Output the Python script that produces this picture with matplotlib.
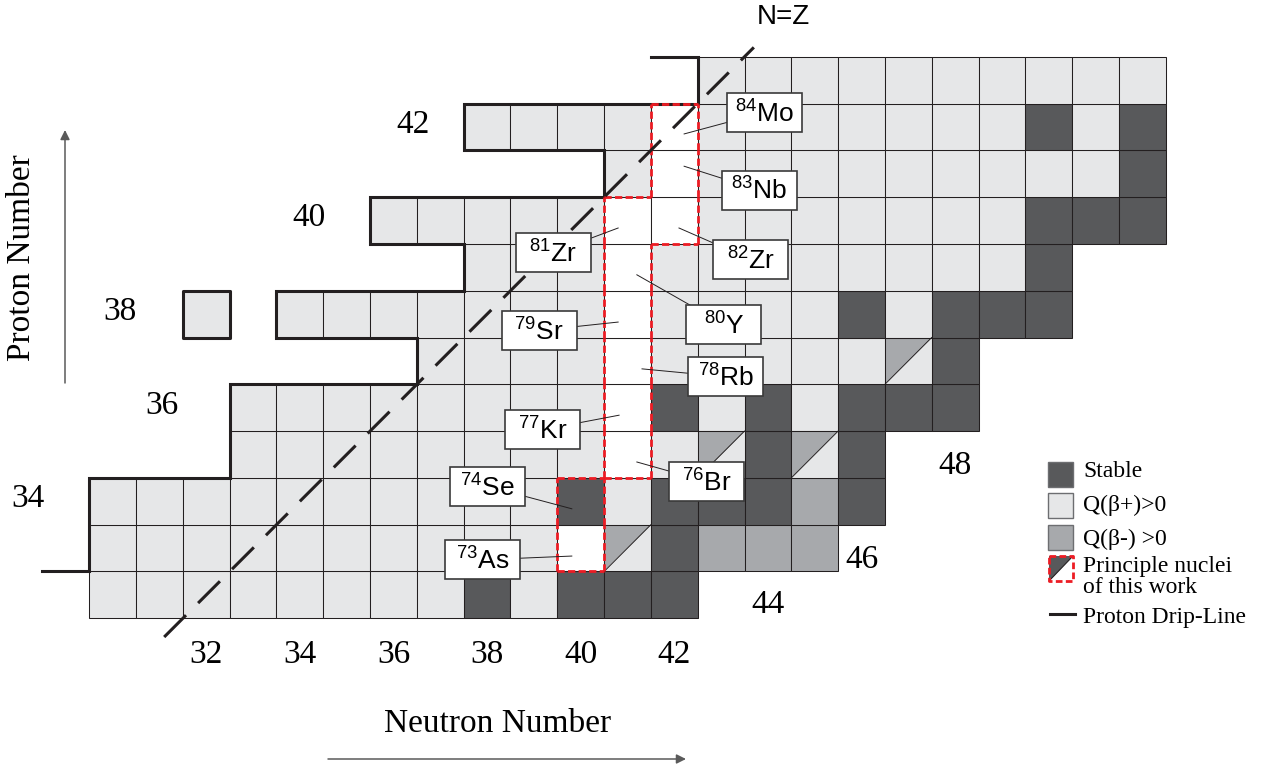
import numpy as np
import matplotlib.pyplot as plt
from matplotlib.patches import Rectangle, Polygon

plt.rcParams['mathtext.fontset'] = 'custom'
plt.rcParams['mathtext.rm'] = 'Liberation Sans'
plt.rcParams['mathtext.it'] = 'Liberation Sans:italic'
plt.rcParams['mathtext.bf'] = 'Liberation Sans:bold'

LIGHT = '#e6e7e8'
DARK = '#58595b'
MID = '#a7a9ac'
RED = '#ed1c24'
INK = '#231f20'
SERIF = 'Liberation Serif'
SANS = 'Liberation Sans'

# Chart of nuclides: one string per proton number, starting at the first neutron number
# L = Q(b+)>0, D = stable, M = Q(b-)>0, T = both (split cell), W = principle nuclei (unstable)
row_z = [32, 33, 34, 35, 36, 37, 38, 39, 40, 41, 42, 43]
row_n0 = [30, 30, 30, 33, 33, 37, 34, 38, 36, 41, 38, 43]
row_cells = [
    "LLLLLLLLDLDDD",
    "LLLLLLLLLLWTDMMM",
    "LLLLLLLLLLDLDDDMD",
    "LLLLLLLLWLTDTD",
    "LLLLLLLLWDLDLDDD",
    "LLLLWLLLLLTD",
    "LLLLLLLWLLLLDLDDD",
    "LLLWLLLLLLLLD",
    "LLLLLWWLLLLLLLDDD",
    "LWLLLLLLLLLD",
    "LLLLWLLLLLLLDLD",
    "LLLLLLLLLL",
]
# isolated known nucleus beyond the drip line
iso_n = [32]
iso_z = [38]

# principle nuclei of this work
pr_n = [40, 40, 41, 41, 41, 41, 41, 41, 42, 42, 42]
pr_z = [33, 34, 35, 36, 37, 38, 39, 40, 40, 41, 42]

# proton drip line: first bound neutron number per Z
drip_z = [44, 43, 42, 41, 40, 39, 38, 37, 36, 35, 34, 33, 32]
drip_n = [42, 43, 38, 41, 36, 38, 34, 37, 33, 33, 30, 30, 29]

# labelled nuclides
lab_a = [84, 83, 82, 81, 80, 79, 78, 77, 76, 74, 73]
lab_sym = ['Mo', 'Nb', 'Zr', 'Zr', 'Y', 'Sr', 'Rb', 'Kr', 'Br', 'Se', 'As']
# label box centres and leader-line anchors (chart units)
lab_box = [(43.92, 42.31), (43.81, 40.65), (43.63, 39.17), (39.41, 39.32),
           (43.06, 37.78), (39.11, 37.65), (43.10, 36.66), (39.19, 35.53),
           (42.69, 34.42), (38.01, 34.32), (37.90, 32.75)]
lab_tip = [(42.21, 41.85), (42.21, 41.16), (42.10, 39.84), (40.80, 39.84),
           (41.20, 38.84), (40.80, 37.83), (41.31, 36.83), (40.82, 35.84),
           (41.20, 34.84), (39.81, 33.84), (39.81, 32.83)]

n_ticks = [32, 34, 36, 38, 40, 42]
z_ticks = [34, 36, 38, 40, 42]
z_tick_pos = [28.19, 31.06, 30.16, 34.19, 36.41]
edge_ticks = [44, 46, 48]
edge_tick_z = [31.78, 32.75, 34.76]

fig = plt.figure(figsize=(12.66, 7.68), dpi=100)
ax = fig.add_axes([0, 0, 1, 1])
ax.set_xlim(27.592, 54.643)
ax.set_ylim(28.301, 44.712)
ax.axis('off')

fill = {'L': LIGHT, 'D': DARK, 'M': MID, 'W': 'white'}
for z, n0, cells in zip(row_z, row_n0, row_cells):
    for i, c in enumerate(cells):
        n = n0 + i
        if c == 'T':
            ax.add_patch(Polygon([(n - .5, z - .5), (n - .5, z + .5), (n + .5, z + .5)],
                                 closed=True, fc=MID, ec='none', zorder=1))
            ax.add_patch(Polygon([(n - .5, z - .5), (n + .5, z - .5), (n + .5, z + .5)],
                                 closed=True, fc=LIGHT, ec='none', zorder=1))
            ax.plot([n - .5, n + .5], [z - .5, z + .5], color=INK, lw=0.7, zorder=2)
            ax.add_patch(Rectangle((n - .5, z - .5), 1, 1, fc='none', ec=INK, lw=0.75, zorder=2))
        else:
            ax.add_patch(Rectangle((n - .5, z - .5), 1, 1, fc=fill[c], ec=INK, lw=0.75, zorder=1))

for n, z in zip(iso_n, iso_z):
    ax.add_patch(Rectangle((n - .5, z - .5), 1, 1, fc=LIGHT, ec=INK, lw=2.2,
                           joinstyle='round', zorder=3))

# drip line path
px, py = [], []
for k, (z, n) in enumerate(zip(drip_z, drip_n)):
    if k > 0:
        px.append(n - .5); py.append(z + .5)
    if k < len(drip_z) - 1:
        px.append(n - .5); py.append(z - .5)
ax.plot(px, py, color=INK, lw=2.2, solid_joinstyle='miter', zorder=3)

# red dashed outline around principle nuclei
pset = set(zip(pr_n, pr_z))
for n, z in pset:
    sides = [((1, 0), [n + .5, n + .5], [z - .5, z + .5]),
             ((-1, 0), [n - .5, n - .5], [z - .5, z + .5]),
             ((0, 1), [n - .5, n + .5], [z + .5, z + .5]),
             ((0, -1), [n - .5, n + .5], [z - .5, z - .5])]
    for (dn, dz), xs, ys in sides:
        if (n + dn, z + dz) not in pset:
            ax.plot(xs, ys, color=RED, lw=2.0, dashes=(2.6, 1.2), zorder=4)

# N = Z line
ax.plot([31.1, 43.7], [31.1, 43.7], color=INK, lw=2.2, dashes=(10.1, 5.6),
        solid_capstyle='butt', dash_capstyle='butt', zorder=5)

# nuclide labels
bw, bh = 75 / 46.8, 39 / 46.8
for a, s, (bx, by), (tx, ty) in zip(lab_a, lab_sym, lab_box, lab_tip):
    ax.plot([tx, bx], [ty, by], color=INK, lw=0.7, zorder=6)
    ax.add_patch(Rectangle((bx - bw / 2, by - bh / 2), bw, bh, fc='white',
                           ec='#3a3a3a', lw=1.2, zorder=7))
    ax.text(bx, by - 0.03, r'$^{%d}$%s' % (a, s), ha='center', va='center',
            fontsize=19, family=SANS, zorder=8)

# tick numbers
for n in n_ticks:
    ax.text(n, 30.72, str(n), ha='center', va='center', fontsize=24, family=SERIF)
for z, x in zip(z_ticks, z_tick_pos):
    ax.text(x, z + 0.05, str(z), ha='center', va='center', fontsize=24, family=SERIF)
for n, z in zip(edge_ticks, edge_tick_z):
    ax.text(n, z, str(n), ha='center', va='center', fontsize=24, family=SERIF)

# overlay in pixel units: titles, arrows, legend
lax = fig.add_axes([0, 0, 1, 1])
lax.set_xlim(0, 1266)
lax.set_ylim(768, 0)
lax.axis('off')

lax.text(783, 17, 'N=Z', ha='center', va='center', fontsize=20, family=SANS)
lax.text(22, 258, 'Proton Number', rotation=90, ha='center', va='center',
         fontsize=24, family=SERIF)
lax.text(498, 724, 'Neutron Number', ha='center', va='center', fontsize=24, family=SERIF)
arrow = dict(arrowstyle='-|>', color='#5a5a5a', lw=1.1, mutation_scale=14,
             shrinkA=0, shrinkB=0)
lax.annotate('', xy=(65, 130), xytext=(65, 383), arrowprops=arrow)
lax.annotate('', xy=(686, 759), xytext=(328, 759), arrowprops=arrow)

# legend
leg = [('Stable', DARK, 462), ('Q(β+)>0', LIGHT, 493), ('Q(β-) >0', MID, 525)]
for txt, col, y in leg:
    lax.add_patch(Rectangle((1048, y), 25, 25, fc=col, ec='#6d6e71', lw=1.0))
lax.add_patch(Polygon([(1049, 581), (1049, 556), (1073, 556)], closed=True, fc=DARK, ec='none'))
lax.plot([1049, 1073], [581, 556], color=INK, lw=0.8)
lax.plot([1049, 1073, 1073, 1049, 1049], [556, 556, 581, 581, 556], color=RED, lw=2.0,
         dashes=(2.4, 1.2))
lax.plot([1050, 1075], [614, 614], color=INK, lw=2.2)
legend_txt = ['Stable', 'Q(β+)>0', 'Q(β-) >0', 'Principle nuclei', 'of this work',
              'Proton Drip-Line']
legend_base = [477, 511, 545, 572, 593, 623]
for t, yb in zip(legend_txt, legend_base):
    lax.text(1083, yb, t, ha='left', va='baseline', fontsize=17, family=SERIF)

fig.savefig('out.png', dpi=100)
